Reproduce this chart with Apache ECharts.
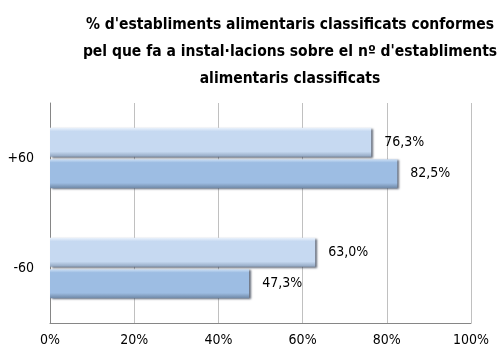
<!DOCTYPE html>
<html>
<head>
<meta charset="utf-8">
<script src="https://cdn.jsdelivr.net/npm/echarts@6/dist/echarts.min.js"></script>
<style>
  html, body { margin: 0; padding: 0; background: #fff; }
  #chart { width: 499px; height: 353px; }
</style>
</head>
<body>
<div id="chart"></div>
<script>
// Categories, bottom to top on the value chart
const categories = ['-60', '+60'];
// Share of classified food establishments compliant on installations (%)
const seriesLight = [63.0, 76.3];
const seriesDark = [47.3, 82.5];
const xTicks = [0, 20, 40, 60, 80, 100];

const FONT = "'DejaVu Sans Condensed', 'Liberation Sans Narrow', 'Open Sans', sans-serif";

function bevel(mid, top, bottom) {
  return new echarts.graphic.LinearGradient(0, 0, 0, 1, [
    { offset: 0, color: top },
    { offset: 0.12, color: mid },
    { offset: 0.82, color: mid },
    { offset: 1, color: bottom }
  ]);
}

const labelCfg = {
  show: true,
  position: 'right',
  distance: 13,
  color: '#000',
  fontSize: 14,
  fontFamily: FONT,
  formatter: p => p.value.toFixed(1).replace('.', ',') + '%'
};

const chart = echarts.init(document.getElementById('chart'), null, { renderer: 'canvas' });
chart.setOption({
  animation: false,
  backgroundColor: '#fff',
  title: {
    text: "% d'establiments alimentaris classificats conformes\npel que fa a instal·lacions sobre el nº d'establiments\nalimentaris classificats",
    left: 285,
    top: 6,
    textAlign: 'center',
    textStyle: { fontSize: 15.5, fontWeight: 'bold', lineHeight: 27, color: '#000', fontFamily: FONT }
  },
  grid: { left: 50, right: 28, top: 103, bottom: 30, containLabel: false },
  xAxis: {
    type: 'value',
    min: xTicks[0],
    max: xTicks[xTicks.length - 1],
    interval: 20,
    axisLine: { show: true, lineStyle: { color: '#868686' } },
    axisTick: { show: false },
    splitLine: { show: true, lineStyle: { color: '#c0c0c0', width: 1 } },
    axisLabel: { formatter: v => v + '%', fontSize: 14, color: '#000', margin: 10, fontFamily: FONT }
  },
  yAxis: {
    type: 'category',
    data: categories,
    axisLine: { show: true, lineStyle: { color: '#868686' } },
    axisTick: { show: false },
    axisLabel: { fontSize: 14, color: '#000', margin: 16, fontFamily: FONT }
  },
  series: [
    {
      type: 'bar',
      name: 'light',
      data: seriesLight,
      barWidth: 29,
      barGap: '8%',
      itemStyle: {
        color: bevel('#c6d9f1', '#eaf2fc', '#8fa4bf'),
        shadowColor: 'rgba(30,40,60,0.7)',
        shadowOffsetX: 2,
        shadowOffsetY: 1,
        shadowBlur: 2
      },
      label: labelCfg
    },
    {
      type: 'bar',
      name: 'dark',
      data: seriesDark,
      barWidth: 29,
      barGap: '8%',
      itemStyle: {
        color: bevel('#9dbde3', '#cfe1f6', '#6f88a6'),
        shadowColor: 'rgba(30,40,60,0.7)',
        shadowOffsetX: 2,
        shadowOffsetY: 1,
        shadowBlur: 2
      },
      label: labelCfg
    }
  ]
});
</script>
</body>
</html>
